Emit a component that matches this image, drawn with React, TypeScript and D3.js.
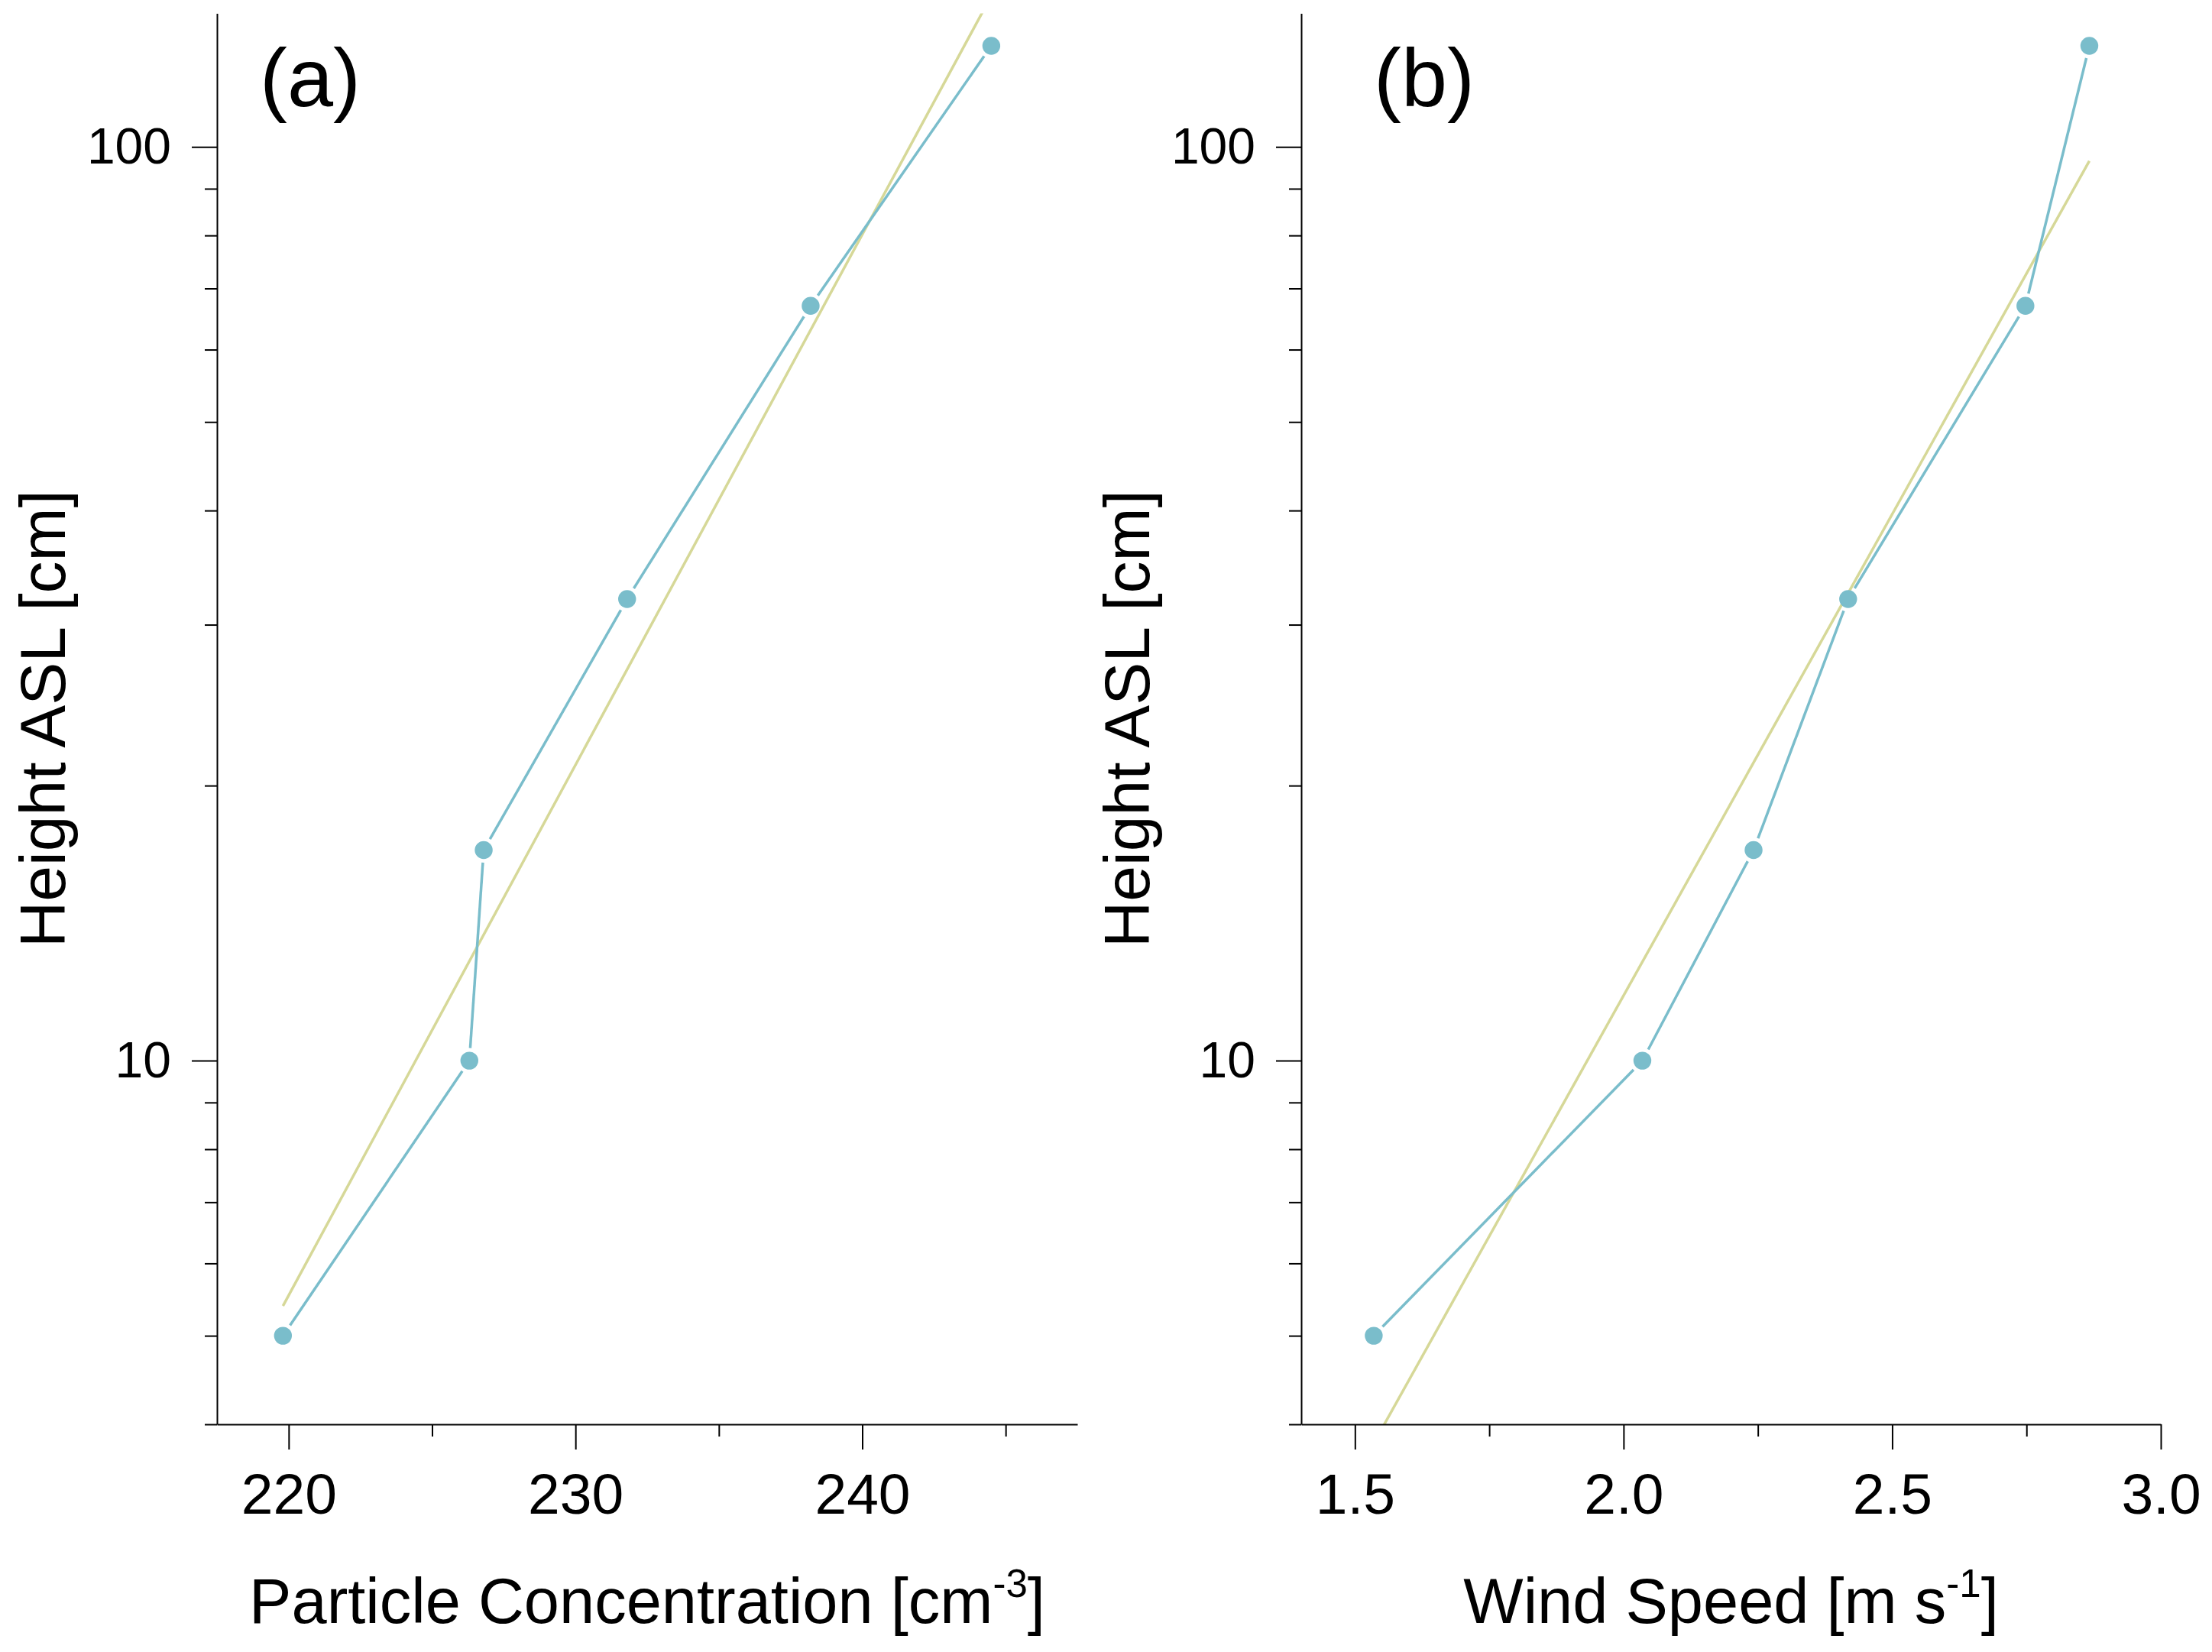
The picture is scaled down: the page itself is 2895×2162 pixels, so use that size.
import React, { useEffect, useRef } from "react";
import * as d3 from "d3";

// measured heights (cm above surface) shared by both panels
const heights = [5, 10, 17, 32, 67, 129];
// panel (a) particle concentration [cm-3]
const particleConc = [219.8, 226.3, 226.8, 231.8, 238.2, 244.5];
// panel (b) wind speed [m s-1]
const windSpeed = [1.535, 2.035, 2.242, 2.418, 2.748, 2.867];

const heightMajorTicks = [10, 100];
const heightMinorTicks = [4, 5, 6, 7, 8, 9, 20, 30, 40, 50, 60, 70, 80, 90];
const concMajorTicks = [220, 230, 240];
const concMinorTicks = [225, 235, 245];
const windMajorTicks = [1.5, 2.0, 2.5, 3.0];
const windMinorTicks = [1.75, 2.25, 2.75];

const W = 2895,
  H = 2162;
const top = 17.5,
  bottom = 1864;
const FONT = "'Liberation Sans', Arial, Helvetica, sans-serif";
const BLUE = "#7abdcb";
const YELLOW = "#d6d898";

interface Panel {
  id: string;
  tag: string;
  tagX: number;
  x0: number;
  x1: number;
  domain: [number, number];
  values: number[];
  major: number[];
  minor: number[];
  fmt: (d: number) => string;
  title: string;
  sup: string;
}

const panels: Panel[] = [
  {
    id: "a",
    tag: "(a)",
    tagX: 340,
    x0: 284,
    x1: 1410,
    domain: [217.5, 247.5],
    values: particleConc,
    major: concMajorTicks,
    minor: concMinorTicks,
    fmt: (d) => String(d),
    title: "Particle Concentration [cm",
    sup: "-3",
  },
  {
    id: "b",
    tag: "(b)",
    tagX: 1798,
    x0: 1703,
    x1: 2828,
    domain: [1.4, 3.0],
    values: windSpeed,
    major: windMajorTicks,
    minor: windMinorTicks,
    fmt: d3.format(".1f"),
    title: "Wind Speed [m s",
    sup: "-1",
  },
];

export default function App() {
  const ref = useRef<SVGSVGElement>(null);

  useEffect(() => {
    const svg = d3.select(ref.current);
    svg.selectAll("*").remove();

    const y = d3.scaleLog().domain([4, 140]).range([bottom, top]);

    panels.forEach((p) => {
      const x = d3.scaleLinear().domain(p.domain).range([p.x0, p.x1]);
      const g = svg.append("g");

      // clip for the regression line
      g.append("clipPath")
        .attr("id", "clip-" + p.id)
        .append("rect")
        .attr("x", p.x0)
        .attr("y", top)
        .attr("width", p.x1 - p.x0)
        .attr("height", bottom - top);

      // least squares fit of log10(height) on x
      const lh = heights.map((h) => Math.log10(h));
      const mx = d3.mean(p.values)!;
      const my = d3.mean(lh)!;
      const sxy = d3.sum(p.values, (v, i) => (v - mx) * (lh[i] - my));
      const sxx = d3.sum(p.values, (v) => (v - mx) ** 2);
      const slope = sxy / sxx;
      const [xmin, xmax] = d3.extent(p.values) as [number, number];
      const fit = [xmin, xmax].map((v) => ({
        x: v,
        h: Math.pow(10, my + slope * (v - mx)),
      }));
      g.append("path")
        .datum(fit)
        .attr("clip-path", "url(#clip-" + p.id + ")")
        .attr("fill", "none")
        .attr("stroke", YELLOW)
        .attr("stroke-width", 3.5)
        .attr(
          "d",
          d3
            .line<{ x: number; h: number }>()
            .x((d) => x(d.x))
            .y((d) => y(d.h))
        );

      // profile line with gaps around the markers
      const pts = p.values.map((v, i) => [x(v), y(heights[i])]);
      const gap = 16.5;
      const segs = d3.pairs(pts).map(([a, b]) => {
        const dx = b[0] - a[0],
          dy = b[1] - a[1];
        const len = Math.hypot(dx, dy);
        const ux = dx / len,
          uy = dy / len;
        return [a[0] + ux * gap, a[1] + uy * gap, b[0] - ux * gap, b[1] - uy * gap];
      });
      g.selectAll("line.seg")
        .data(segs)
        .enter()
        .append("line")
        .attr("x1", (d) => d[0])
        .attr("y1", (d) => d[1])
        .attr("x2", (d) => d[2])
        .attr("y2", (d) => d[3])
        .attr("stroke", BLUE)
        .attr("stroke-width", 3.5);

      g.selectAll("circle")
        .data(pts)
        .enter()
        .append("circle")
        .attr("cx", (d) => d[0])
        .attr("cy", (d) => d[1])
        .attr("r", 11.7)
        .attr("fill", BLUE);

      // y axis
      const yMajor = g
        .append("g")
        .attr("transform", "translate(" + p.x0 + ",0)")
        .call(
          d3
            .axisLeft(y)
            .tickValues(heightMajorTicks)
            .tickSize(33)
            .tickSizeOuter(0)
            .tickPadding(27)
            .tickFormat((d) => String(d))
        );
      g.append("g")
        .attr("transform", "translate(" + p.x0 + ",0)")
        .call(
          d3
            .axisLeft(y)
            .tickValues(heightMinorTicks)
            .tickSize(16)
            .tickFormat(() => "")
        )
        .call((s) => s.select(".domain").remove());

      // x axis
      const xMajor = g
        .append("g")
        .attr("transform", "translate(0," + bottom + ")")
        .call(
          d3
            .axisBottom(x)
            .tickValues(p.major)
            .tickSize(33)
            .tickSizeOuter(0)
            .tickPadding(31)
            .tickFormat((d) => p.fmt(d as number))
        );
      g.append("g")
        .attr("transform", "translate(0," + bottom + ")")
        .call(
          d3
            .axisBottom(x)
            .tickValues(p.minor)
            .tickSize(16)
            .tickFormat(() => "")
        )
        .call((s) => s.select(".domain").remove());

      g.selectAll(".domain, .tick line").attr("stroke", "#000").attr("stroke-width", 2);
      yMajor.selectAll("text").attr("font-family", FONT).attr("font-size", 66).attr("fill", "#000");
      xMajor.selectAll("text").attr("font-family", FONT).attr("font-size", 75).attr("fill", "#000");

      // axis titles
      const xt = g
        .append("text")
        .attr("x", (p.x0 + p.x1) / 2)
        .attr("y", 2124)
        .attr("text-anchor", "middle")
        .attr("font-family", FONT)
        .attr("font-size", 83)
        .text(p.title);
      xt.append("tspan").attr("dy", -34).attr("font-size", 51).text(p.sup);
      xt.append("tspan").attr("dy", 34).text("]");

      g.append("text")
        .attr("transform", "translate(" + (p.x0 - 199) + "," + (top + bottom) / 2 + ") rotate(-90)")
        .attr("text-anchor", "middle")
        .attr("font-family", FONT)
        .attr("font-size", 84)
        .text("Height ASL [cm]");

      // panel tag
      g.append("text")
        .attr("x", p.tagX)
        .attr("y", 139)
        .attr("font-family", FONT)
        .attr("font-size", 108)
        .text(p.tag);
    });
  }, []);

  return (
    <div>
      <style>{"body{margin:0;background:#fff}"}</style>
      <svg ref={ref} width={W} height={H} style={{ display: "block", background: "#fff" }} />
    </div>
  );
}
